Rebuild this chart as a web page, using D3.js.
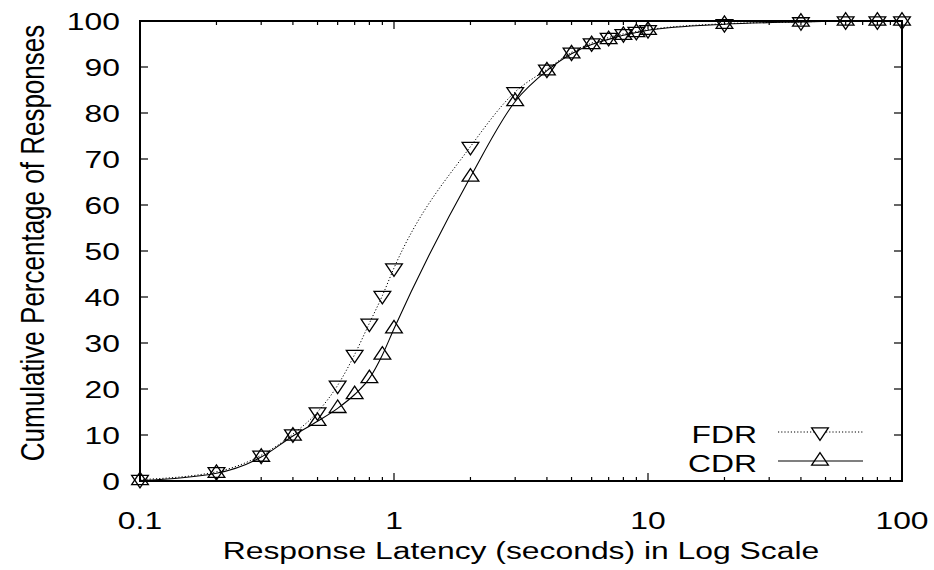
<!DOCTYPE html>
<html><head><meta charset="utf-8">
<script src="https://cdn.jsdelivr.net/npm/d3@7"></script>
<style>body{margin:0;background:#fff}svg{display:block}</style>
</head><body>
<svg id="c" width="934" height="570"></svg>
<script>
// ---- data ----
const latency = [0.1,0.2,0.3,0.4,0.5,0.6,0.7,0.8,0.9,1,2,3,4,5,6,7,8,9,10,20,40,60,80,100];
const fdr = [0.3,2.0,5.6,10.2,15.0,20.8,27.5,34.3,40.3,46.3,72.7,84.6,89.5,93.2,95.2,96.4,97.2,97.7,98.1,99.4,99.8,100,100,100];
const cdr = [0.1,1.7,5.2,9.8,13.0,15.8,18.8,22.3,27.4,33.1,66.1,82.5,89.2,92.9,94.9,96.0,96.9,97.5,98.0,99.3,99.8,100,100,100];
const seriesNames = ["FDR","CDR"];
const xTickLabels = ["0.1","1","10","100"];
const xTickValues = [0.1,1,10,100];
const yTickValues = [0,10,20,30,40,50,60,70,80,90,100];
const xTitle = "Response Latency (seconds) in Log Scale";
const yTitle = "Cumulative Percentage of Responses";

// ---- layout ----
const X0 = 140, X1 = 902, Y0 = 481, Y1 = 21;
const FONT = "'Liberation Sans', Arial, Helvetica, sans-serif";
const FS = 24.5, SX = 1.3;

const x = d3.scaleLog().domain([0.1,100]).range([X0,X1]);
const y = d3.scaleLinear().domain([0,100]).range([Y0,Y1]);
const svg = d3.select("#c");

function label(g, txt, tx, ty, anchor, extra) {
  return g.append("text")
    .attr("transform", `translate(${tx},${ty}) ${extra||""} scale(${SX},1)`)
    .attr("text-anchor", anchor)
    .attr("font-family", FONT).attr("font-size", FS).attr("fill", "#000")
    .text(txt);
}

// ticks
const ticksG = svg.append("g").attr("stroke", "#000").attr("stroke-width", 1.2);
const minor = x.ticks();
minor.forEach(v => {
  const isMajor = Math.abs(Math.log10(v) - Math.round(Math.log10(v))) < 1e-9;
  const len = isMajor ? 8 : 4;
  ticksG.append("line").attr("x1", x(v)).attr("x2", x(v)).attr("y1", Y0).attr("y2", Y0 - len);
  ticksG.append("line").attr("x1", x(v)).attr("x2", x(v)).attr("y1", Y1).attr("y2", Y1 + len);
});
yTickValues.forEach(v => {
  ticksG.append("line").attr("x1", X0).attr("x2", X0 + 8).attr("y1", y(v)).attr("y2", y(v));
  ticksG.append("line").attr("x1", X1).attr("x2", X1 - 8).attr("y1", y(v)).attr("y2", y(v));
});

// frame
svg.append("rect").attr("x", X0).attr("y", Y1).attr("width", X1 - X0).attr("height", Y0 - Y1)
  .attr("fill", "none").attr("stroke", "#000").attr("stroke-width", 2);

// tick labels
const lab = svg.append("g");
xTickValues.forEach((v, i) => label(lab, xTickLabels[i], x(v), 529, "middle"));
yTickValues.forEach(v => label(lab, String(v), 120, y(v) + 8.5, "end"));

// titles
label(lab, xTitle, (X0 + X1) / 2, 559, "middle");
svg.append("text")
  .attr("transform", `translate(44,${(Y0 + Y1) / 2 - 8}) scale(1.28,1) rotate(-90)`)
  .attr("text-anchor", "middle")
  .attr("font-family", FONT).attr("font-size", 26).attr("fill", "#000")
  .text(yTitle);

// curves
const line = d3.line().x(d => x(d[0])).y(d => y(d[1])).curve(d3.curveMonotoneX);
const fdrPts = latency.map((v, i) => [v, fdr[i]]);
const cdrPts = latency.map((v, i) => [v, cdr[i]]);
svg.append("path").attr("d", line(fdrPts)).attr("fill", "none").attr("stroke", "#000")
  .attr("stroke-width", 1).attr("stroke-dasharray", "1.2,2");
svg.append("path").attr("d", line(cdrPts)).attr("fill", "none").attr("stroke", "#000")
  .attr("stroke-width", 1.1);

// markers
const TW = 16.7, TH = 12.5;
function tri(cx, cy, down) {
  const s = down ? -1 : 1;
  return `M${cx},${cy - s * 2 * TH / 3}L${cx - TW / 2},${cy + s * TH / 3}L${cx + TW / 2},${cy + s * TH / 3}Z`;
}
const mk = svg.append("g").attr("fill", "none").attr("stroke", "#000").attr("stroke-width", 1.3);
mk.selectAll("path.f").data(fdrPts).join("path").attr("class", "f")
  .attr("d", d => tri(x(d[0]), y(d[1]), true));
mk.selectAll("path.c").data(cdrPts).join("path").attr("class", "c")
  .attr("d", d => tri(x(d[0]), y(d[1]), false));

// legend
const lg = svg.append("g");
label(lg, seriesNames[0], 757, 443, "end");
label(lg, seriesNames[1], 757, 472, "end");
lg.append("line").attr("x1", 778).attr("x2", 863).attr("y1", 432).attr("y2", 432)
  .attr("stroke", "#000").attr("stroke-width", 1).attr("stroke-dasharray", "1.2,2");
lg.append("line").attr("x1", 778).attr("x2", 863).attr("y1", 461).attr("y2", 461)
  .attr("stroke", "#000").attr("stroke-width", 1.1);
lg.append("path").attr("d", tri(820, 432, true)).attr("fill", "#fff").attr("stroke", "#000").attr("stroke-width", 1.3);
lg.append("path").attr("d", tri(820, 461, false)).attr("fill", "none").attr("stroke", "#000").attr("stroke-width", 1.3);
</script>
</body></html>
